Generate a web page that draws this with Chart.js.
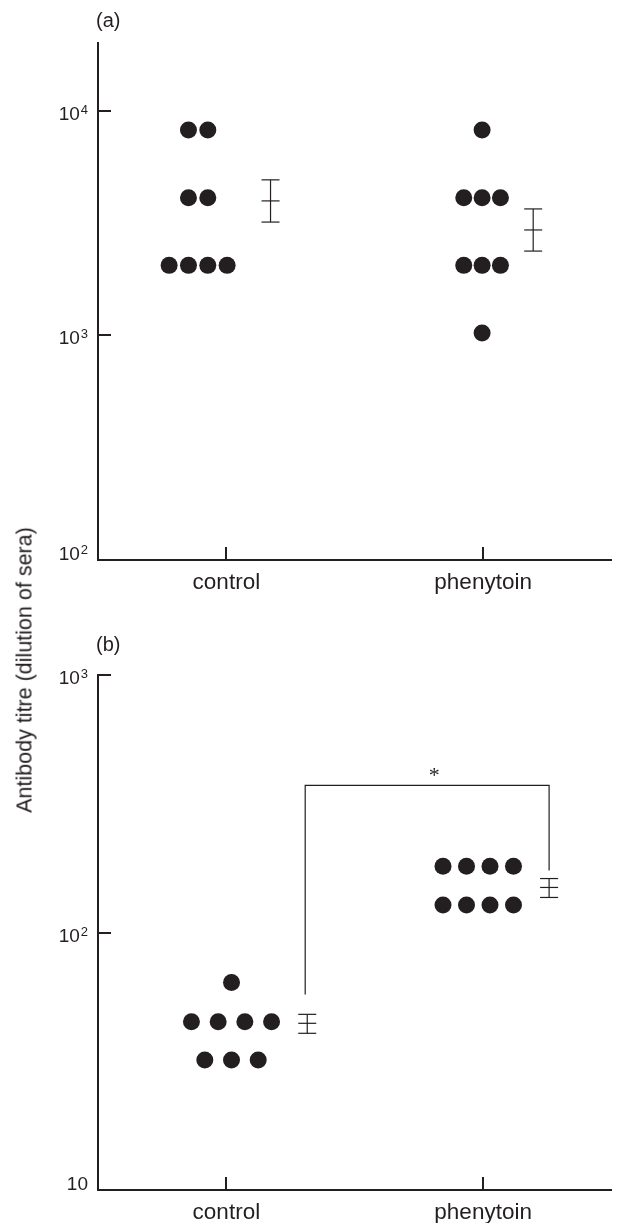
<!DOCTYPE html>
<html>
<head>
<meta charset="utf-8">
<script src="https://cdn.jsdelivr.net/npm/chart.js@4.4.1/dist/chart.umd.min.js"></script>
<style>
  html, body { margin: 0; padding: 0; background: #fff; }
  #page { position: relative; width: 620px; height: 1223px; overflow: hidden; }
  canvas { position: absolute; left: 0; }
  #ytitle {
    position: absolute; left: 25px; top: 670px; white-space: nowrap;
    font: 21.5px "Liberation Sans", Arial, sans-serif; color: #231f20;
    transform: translate(-50%, -50%) rotate(-90deg);
  }
</style>
</head>
<body>
<div id="page">
  <canvas id="panelA" width="620" height="610" style="top:0"></canvas>
  <canvas id="panelB" width="620" height="603" style="top:620px"></canvas>
  <div id="ytitle">Antibody titre (dilution of sera)</div>
</div>
<script>
const INK = '#231f20';
const SANS = '"Liberation Sans", Arial, sans-serif';

// categories on the x axis
const categories = ['control', 'phenytoin'];
const catX = [0.5, 1.5];

// panel (a): individual titres
const aControl   = [8192, 8192, 4096, 4096, 2048, 2048, 2048, 2048];
const aPhenytoin = [8192, 4096, 4096, 4096, 2048, 2048, 2048, 1024];
// panel (a): mean and error range
const aMean = [3965, 2944];
const aLow  = [3192, 2371];
const aHigh = [4920, 3652];
const aTicks = [100, 1000, 10000];

// panel (b): individual titres
const bControl   = [64, 45, 45, 45, 45, 32, 32, 32];
const bPhenytoin = [181, 181, 181, 181, 128, 128, 128, 128];
// panel (b): mean and error range
const bMean = [44.4, 149.6];
const bLow  = [40.6, 136.8];
const bHigh = [48.1, 162];
const bTicks = [10, 100, 1000];
// significance bracket between the groups in (b)
const bBracketTop = 373;
const bBracketFeet = [57.5, 174];

// spread equal values side by side around a centre
function spread(values, center, step) {
  const counts = {}, seen = {};
  values.forEach(v => counts[v] = (counts[v] || 0) + 1);
  return values.map(v => {
    seen[v] = seen[v] === undefined ? 0 : seen[v] + 1;
    return { x: center + (seen[v] - (counts[v] - 1) / 2) * step, y: v };
  });
}

function line(ctx, x1, y1, x2, y2) {
  ctx.beginPath(); ctx.moveTo(x1, y1); ctx.lineTo(x2, y2); ctx.stroke();
}

function makeOverlay(cfg) {
  return {
    id: 'overlay',
    afterDraw(chart) {
      const { ctx } = chart;
      const x = chart.scales.x, y = chart.scales.y;
      ctx.save();
      ctx.strokeStyle = INK;
      ctx.fillStyle = INK;

      // inward tick marks
      ctx.lineWidth = 2;
      cfg.ticks.forEach(v => {
        const py = Math.round(y.getPixelForValue(v));
        line(ctx, x.left, py, x.left + 13, py);
      });
      catX.forEach(v => {
        const px = Math.round(x.getPixelForValue(v));
        line(ctx, px, y.bottom, px, y.bottom - 13);
      });

      // y labels 10^n with superscript
      cfg.ticks.forEach((v, i) => {
        const py = y.getPixelForValue(v);
        const base = i === 0 ? py : py + 9;
        const exp = Math.round(Math.log10(v));
        ctx.textBaseline = 'alphabetic';
        ctx.textAlign = 'right';
        if (exp === 1) {
          ctx.font = '19px ' + SANS;
          ctx.fillText('10', 88, base);
        } else {
          ctx.font = '13px ' + SANS;
          const ew = ctx.measureText(String(exp)).width;
          ctx.fillText(String(exp), 88, base - 6);
          ctx.font = '19px ' + SANS;
          ctx.fillText('10', 88 - ew - 1, base);
        }
      });

      // x category labels
      ctx.font = '22.5px ' + SANS;
      ctx.textAlign = 'center';
      categories.forEach((c, i) => {
        ctx.fillText(c, x.getPixelForValue(catX[i]), y.bottom + 28.5);
      });

      // panel letter
      ctx.font = '20px ' + SANS;
      ctx.textAlign = 'left';
      ctx.fillText(cfg.letter, 96, cfg.letterY);

      // error bars
      ctx.lineWidth = 1.2;
      cfg.mean.forEach((m, i) => {
        const px = x.getPixelForValue(cfg.errX[i]);
        const top = y.getPixelForValue(cfg.high[i]);
        const mid = y.getPixelForValue(m);
        const bot = y.getPixelForValue(cfg.low[i]);
        line(ctx, px, top, px, bot);
        [top, mid, bot].forEach(py => line(ctx, px - 9, py, px + 9, py));
      });

      // significance bracket
      if (cfg.bracketX) {
        const x1 = x.getPixelForValue(cfg.bracketX[0]);
        const x2 = x.getPixelForValue(cfg.bracketX[1]);
        const top = y.getPixelForValue(bBracketTop);
        ctx.beginPath();
        ctx.moveTo(x1, y.getPixelForValue(bBracketFeet[0]));
        ctx.lineTo(x1, top);
        ctx.lineTo(x2, top);
        ctx.lineTo(x2, y.getPixelForValue(bBracketFeet[1]));
        ctx.stroke();
        ctx.font = '22px "Liberation Serif", serif';
        ctx.textAlign = 'center';
        ctx.textBaseline = 'middle';
        ctx.fillText('*', (x1 + x2) / 2 + 7, top - 9);
      }
      ctx.restore();
    }
  };
}

function makePanel(id, cfg) {
  new Chart(document.getElementById(id), {
    type: 'scatter',
    data: {
      datasets: [
        { data: spread(cfg.control, cfg.centers[0], cfg.steps[0]) },
        { data: spread(cfg.phenytoin, cfg.centers[1], cfg.steps[1]) }
      ]
    },
    options: {
      responsive: false,
      animation: false,
      events: [],
      devicePixelRatio: 1,
      layout: { padding: { top: cfg.top, right: 4, left: 0, bottom: 0 } },
      plugins: { legend: { display: false }, tooltip: { enabled: false } },
      elements: { point: { radius: 8.5, backgroundColor: INK, borderWidth: 0 } },
      scales: {
        x: {
          type: 'linear', min: 0, max: 2,
          grid: { display: false, drawTicks: false },
          border: { color: INK, width: 2 },
          ticks: { display: false },
          afterFit: s => { s.height = cfg.xHeight; }
        },
        y: {
          type: 'logarithmic', min: cfg.min, max: cfg.max,
          grid: { display: false, drawTicks: false },
          border: { color: INK, width: 2 },
          ticks: { display: false },
          afterFit: s => { s.width = 98; }
        }
      }
    },
    plugins: [makeOverlay(cfg)]
  });
}

makePanel('panelA', {
  control: aControl, phenytoin: aPhenytoin,
  centers: [0.39, 1.496], steps: [0.0753, 0.0714],
  mean: aMean, low: aLow, high: aHigh, errX: [0.672, 1.695],
  ticks: aTicks, min: 100, max: 20000,
  top: 43, xHeight: 50, letter: '(a)', letterY: 27
});

makePanel('panelB', {
  control: bControl, phenytoin: bPhenytoin,
  centers: [0.52, 1.481], steps: [0.104, 0.0915],
  mean: bMean, low: bLow, high: bHigh, errX: [0.815, 1.757],
  ticks: bTicks, min: 10, max: 1000,
  top: 55, xHeight: 33, letter: '(b)', letterY: 31,
  bracketX: [0.807, 1.757]
});
</script>
</body>
</html>
